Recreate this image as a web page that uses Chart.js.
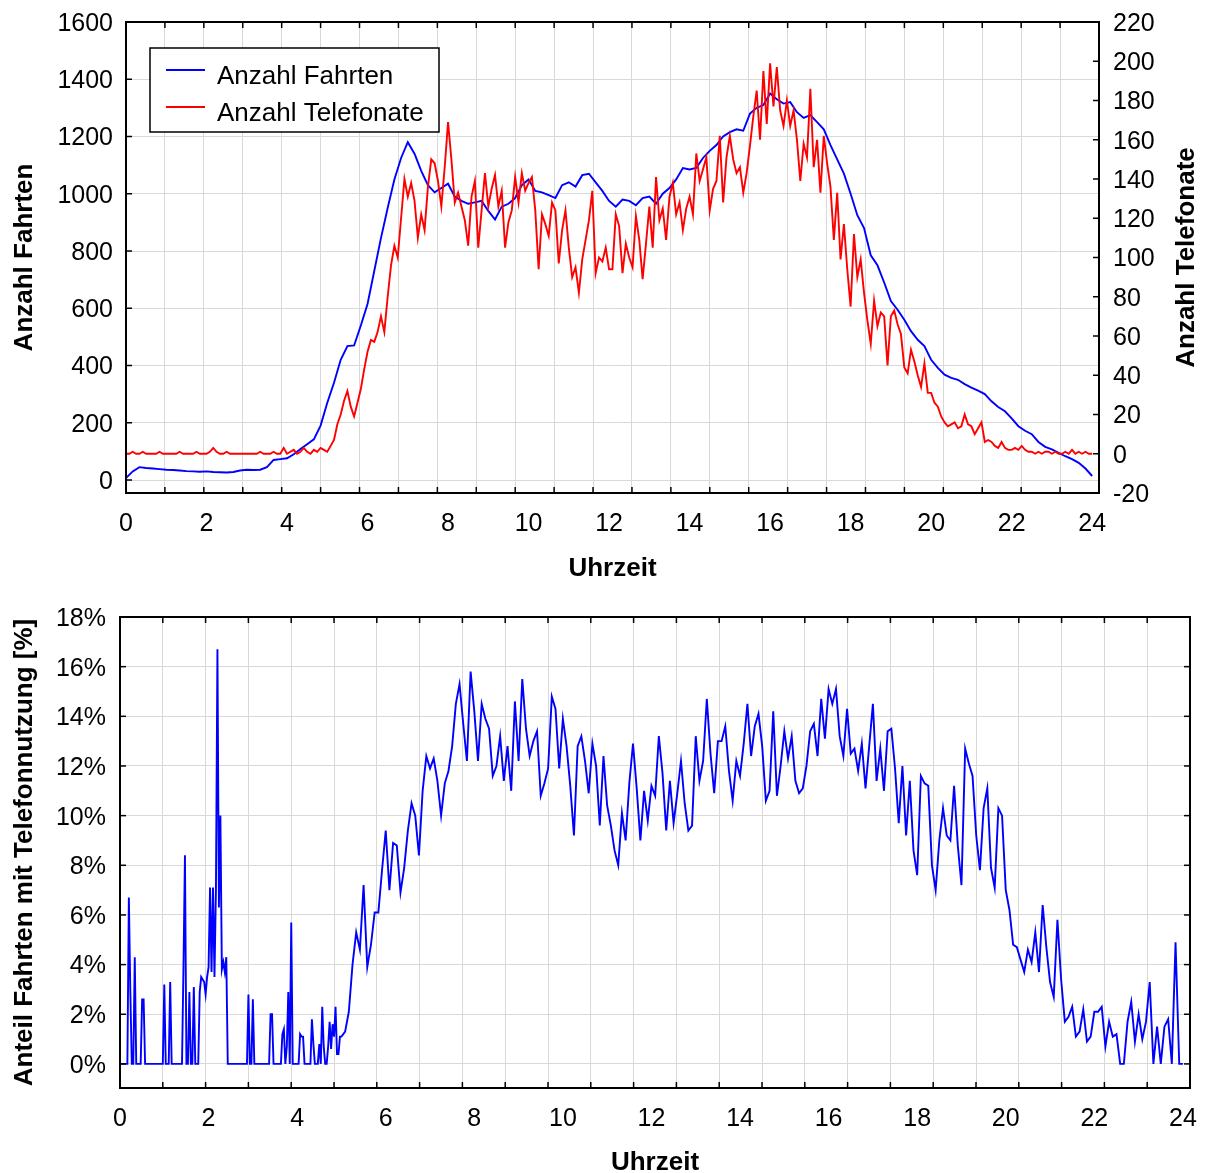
<!DOCTYPE html>
<html lang="de">
<head>
<meta charset="utf-8">
<title>Fahrten und Telefonate im Tagesverlauf</title>
<script src="https://cdn.jsdelivr.net/npm/chart.js@4.4.1/dist/chart.umd.min.js"></script>
<style>
  html, body { margin: 0; padding: 0; background: #fff; overflow: hidden; }
  #wrap { position: relative; width: 1207px; height: 1173px; }
  .panel { position: absolute; left: 0; width: 1207px; }
  #top { top: 0; height: 590px; }
  #bottom { top: 590px; height: 583px; }
  canvas { display: block; }
</style>
</head>
<body>
<div id="wrap">
  <div class="panel" id="top"><canvas id="c1" width="1207" height="590"></canvas></div>
  <div class="panel" id="bottom"><canvas id="c2" width="1207" height="583"></canvas></div>
</div>
<script>
// ---------- Daten ----------
// Anzahl Fahrten, alle 10 Minuten ab 0:00
const fahrtenSchrittMin = 10;
const anzahlFahrten = [
  7, 30, 45, 42, 40, 38,
  36, 35, 33, 31, 30, 29,
  30, 28, 27, 26, 28, 33,
  36, 35, 36, 45, 70, 73,
  76, 90, 108, 125, 142, 190,
  270, 340, 420, 468, 470, 540,
  615, 730, 845, 950, 1050, 1125,
  1180, 1140, 1080, 1030, 1005, 1020,
  1035, 990, 975, 965, 970, 975,
  940, 910, 955, 965, 985, 1030,
  1050, 1010, 1005, 995, 985, 1030,
  1040, 1025, 1065, 1070, 1040, 1010,
  975, 955, 980, 975, 960, 985,
  990, 965, 1000, 1020, 1050, 1090,
  1085, 1090, 1125, 1150, 1170, 1200,
  1215, 1225, 1220, 1280, 1300, 1310,
  1350, 1330, 1315, 1320, 1285, 1265,
  1275, 1250, 1225, 1170, 1120, 1070,
  1000, 925, 880, 785, 750, 690,
  625, 595, 560, 520, 490, 468,
  420, 392, 368, 357, 350, 335,
  323, 312, 300, 275, 255, 240,
  215, 188, 172, 160, 133, 116,
  107, 95, 83, 73, 60, 40,
  14
];

// Anzahl Telefonate, alle 5 Minuten ab 0:00
const telefonateSchrittMin = 5;
const anzahlTelefonate = [
  0, 0, 1, 0, 0, 1, 0, 0, 0, 0, 1, 0,
  0, 0, 0, 0, 1, 0, 0, 0, 0, 1, 0, 0,
  0, 1, 3, 1, 0, 0, 1, 0, 0, 0, 0, 0,
  0, 0, 0, 0, 1, 0, 0, 0, 1, 0, 0, 3,
  0, 1, 2, 0, 1, 3, 1, 0, 2, 1, 3, 2,
  1, 4, 7, 15, 20, 27, 32, 24, 19, 26, 33, 43,
  52, 58, 57, 62, 70, 62, 80, 96, 106, 100, 120, 140,
  131, 138, 129, 110, 122, 114, 136, 150, 148, 139, 126, 146,
  169, 150, 128, 133, 126, 119, 106, 131, 139, 105, 124, 143,
  126, 135, 142, 126, 134, 105, 118, 124, 141, 128, 143, 134,
  138, 141, 124, 94, 122, 117, 111, 128, 124, 97, 114, 124,
  105, 90, 95, 82, 99, 109, 119, 134, 92, 100, 98, 105,
  94, 94, 122, 116, 92, 107, 100, 95, 121, 109, 89, 107,
  126, 105, 141, 119, 125, 109, 131, 138, 122, 128, 114, 125,
  131, 122, 153, 139, 145, 151, 124, 135, 139, 162, 128, 151,
  162, 150, 143, 146, 133, 143, 157, 172, 185, 160, 195, 168,
  199, 177, 197, 175, 167, 180, 167, 175, 160, 139, 158, 151,
  186, 146, 160, 133, 162, 148, 136, 109, 133, 99, 117, 94,
  75, 112, 90, 99, 82, 68, 56, 78, 65, 72, 70, 45,
  70, 73, 66, 61, 44, 41, 53, 47, 40, 34, 46, 31,
  31, 26, 24, 19, 16, 14, 15, 16, 13, 14, 20, 15,
  14, 10, 13, 16, 6, 7, 6, 4, 3, 6, 3, 2,
  2, 3, 2, 4, 2, 1, 1, 0, 1, 0, 1, 1,
  0, 1, 0, 0, 1, 0, 2, 0, 1, 0, 1, 0,
  0
];

// Anteil Fahrten mit Telefonnutzung [%], nachts alle 2 Minuten (0:00 bis 4:58)
const anteilNachtSchrittMin = 2;
const anteilNacht = [
  0, 0, 0, 0, 0, 0, 6.7, 2.9, 0, 0,
  4.3, 0, 0, 0, 0, 2.6, 2.6, 0, 0, 0,
  0, 0, 0, 0, 0, 0, 0, 0, 0, 0,
  3.2, 0, 0, 0, 3.3, 0, 0, 0, 0, 0,
  0, 0, 0, 3.9, 8.4, 0, 0, 2.9, 0, 0,
  3.1, 0, 0, 0, 2.9, 3.5, 3.4, 3.3, 2.8, 3.5,
  3.9, 7.1, 3.7, 7.1, 3.5, 7.1, 16.7, 6.3, 10.0, 3.8,
  4.1, 3.7, 4.3, 0, 0, 0, 0, 0, 0, 0,
  0, 0, 0, 0, 0, 0, 0, 2.8, 0, 0,
  2.6, 0, 0, 0, 0, 0, 0, 0, 0, 0,
  0, 0, 2.0, 2.0, 0, 0, 0, 0, 0, 0,
  1.2, 1.4, 0, 0.7, 2.9, 0, 5.7, 0, 0, 0,
  0, 0, 1.2, 1.1, 1.1, 0, 0, 0, 0, 0,
  1.8, 0.8, 0, 0, 0, 0.8, 0, 2.3, 0.7, 0,
  0, 0.7, 1.7, 0.6, 1.6, 1.1, 2.3, 0.4, 0.4, 1.1
];
// tagsüber alle 5 Minuten (5:00 bis 24:00)
const anteilTagBeginnStd = 5;
const anteilTagSchrittMin = 5;
const anteilTag = [
  1.1, 1.3, 2.1, 4.0, 5.3, 4.6, 7.2, 3.9, 4.8, 6.1, 6.1, 7.8,
  9.4, 7.0, 8.9, 8.8, 6.9, 7.9, 9.4, 10.5, 10.0, 8.4, 11.0, 12.4,
  11.9, 12.3, 11.4, 10.0, 11.3, 11.8, 12.8, 14.5, 15.3, 13.7, 12.2, 15.8,
  14.2, 12.2, 14.5, 13.9, 13.5, 11.6, 12.0, 13.2, 11.4, 12.8, 11.0, 14.6,
  12.2, 15.5, 13.5, 12.4, 13.0, 13.4, 10.8, 11.3, 11.9, 14.8, 14.3, 11.9,
  13.9, 12.8, 11.2, 9.2, 12.8, 13.2, 12.2, 10.9, 12.9, 12.0, 9.6, 12.4,
  10.4, 9.6, 8.6, 8.0, 10.1, 9.0, 11.3, 12.9, 11.1, 9.0, 11.0, 9.8,
  11.2, 10.8, 13.2, 11.7, 9.4, 11.4, 9.7, 10.9, 12.2, 10.5, 9.4, 9.6,
  13.2, 11.4, 12.2, 14.7, 12.5, 10.9, 13.0, 13.0, 13.6, 11.8, 10.6, 12.2,
  11.6, 12.9, 14.5, 12.4, 13.6, 14.1, 12.8, 10.6, 11.0, 14.2, 10.8, 12.0,
  13.4, 12.3, 13.2, 11.4, 10.9, 11.1, 12.0, 13.4, 13.7, 12.4, 14.7, 13.1,
  15.1, 14.5, 15.1, 13.2, 12.4, 14.3, 12.5, 12.7, 11.8, 12.9, 11.1, 12.8,
  14.5, 11.4, 12.7, 11.0, 13.4, 13.5, 11.9, 9.7, 12.0, 9.2, 11.4, 8.6,
  7.6, 11.6, 11.3, 11.2, 8.0, 7.0, 9.0, 10.3, 9.2, 9.0, 11.2, 8.8,
  7.2, 12.7, 12.1, 11.6, 9.2, 7.8, 10.3, 11.1, 7.9, 7.1, 10.3, 10.0,
  7.0, 6.2, 4.8, 4.7, 4.2, 3.7, 4.6, 4.1, 5.3, 3.7, 6.4, 4.7,
  3.3, 2.7, 5.8, 3.4, 1.7, 1.9, 2.3, 1.1, 1.3, 2.2, 0.9, 1.1,
  2.1, 2.1, 2.3, 0.7, 1.7, 1.1, 1.2, 0, 0, 1.7, 2.5, 0.9,
  2.0, 1.0, 1.7, 3.3, 0, 1.5, 0, 1.5, 1.8, 0, 4.9, 0,
  0
];

// Achsenbeschriftungen
const stundenTicks = [0, 2, 4, 6, 8, 10, 12, 14, 16, 18, 20, 22, 24];
const fahrtenTicks = [0, 200, 400, 600, 800, 1000, 1200, 1400, 1600];
const telefonateTicks = [-20, 0, 20, 40, 60, 80, 100, 120, 140, 160, 180, 200, 220];
const anteilTicks = [0, 2, 4, 6, 8, 10, 12, 14, 16, 18];

// ---------- Darstellung ----------
const FONT = "'Liberation Sans', Arial, Helvetica, sans-serif";
Chart.defaults.font.family = FONT;
Chart.defaults.color = '#000';
const GRID = '#d9d9d9';
const TICK_FONT = { size: 25 };

const toPoints = (values, stepMin, startHour = 0) =>
  values.map((v, i) => ({ x: startHour + i * stepMin / 60, y: v }));

const fixedTicks = list => scale => { scale.ticks = list.map(v => ({ value: v })); };

// feste Achsenmaße, ohne zusätzlichen Randausgleich für überstehende Beschriftungen
const fixWidth = w => s => { s.width = w; s.paddingTop = 0; s.paddingBottom = 0; s.paddingLeft = 0; s.paddingRight = 0; };
const fixHeight = h => s => { s.height = h; s.paddingTop = 0; s.paddingBottom = 0; s.paddingLeft = 0; s.paddingRight = 0; };
const plainNumber = v => String(v);

// Rahmen um die Zeichenfläche und nach innen zeigende Teilstriche
const frameAndTicks = {
  id: 'frameAndTicks',
  afterDraw(chart, args, opts) {
    const { ctx, chartArea: a } = chart;
    const len = 6;
    ctx.save();
    ctx.strokeStyle = '#000';
    ctx.lineWidth = 1.5;
    opts.sides.forEach(({ scale, side }) => {
      const s = chart.scales[scale];
      s.ticks.forEach(t => {
        const p = s.getPixelForValue(t.value);
        ctx.beginPath();
        if (side === 'left') { ctx.moveTo(a.left, p); ctx.lineTo(a.left + len, p); }
        if (side === 'right') { ctx.moveTo(a.right, p); ctx.lineTo(a.right - len, p); }
        if (side === 'top') { ctx.moveTo(p, a.top); ctx.lineTo(p, a.top + len); }
        if (side === 'bottom') { ctx.moveTo(p, a.bottom); ctx.lineTo(p, a.bottom - len); }
        ctx.stroke();
      });
    });
    ctx.lineWidth = 2;
    ctx.strokeRect(a.left, a.top, a.right - a.left, a.bottom - a.top);
    ctx.restore();
  }
};

// Achsentitel (links und rechts von unten nach oben gelesen)
const axisTitles = {
  id: 'axisTitles',
  afterDraw(chart, args, opts) {
    const { ctx, chartArea: a } = chart;
    const midX = (a.left + a.right) / 2;
    const midY = (a.top + a.bottom) / 2;
    ctx.save();
    ctx.fillStyle = '#000';
    ctx.font = 'bold 26px ' + FONT;
    ctx.textAlign = 'center';
    ctx.textBaseline = 'middle';
    opts.items.forEach(it => {
      const x = it.side === 'bottom' ? midX : it.x;
      const y = it.side === 'bottom' ? a.bottom + it.offset : midY;
      ctx.save();
      ctx.translate(x, y);
      if (it.side !== 'bottom') ctx.rotate(-Math.PI / 2);
      ctx.fillText(it.text, 0, 0);
      ctx.restore();
    });
    ctx.restore();
  }
};

// Legende im Diagramm oben links
const legendBox = {
  id: 'legendBox',
  afterDatasetsDraw(chart, args, opts) {
    const { ctx, chartArea: a } = chart;
    const x = a.left + 24, y = a.top + 26, w = 289, h = 84;
    ctx.save();
    ctx.fillStyle = '#fff';
    ctx.fillRect(x, y, w, h);
    ctx.strokeStyle = '#000';
    ctx.lineWidth = 1.5;
    ctx.strokeRect(x, y, w, h);
    opts.order.forEach((di, k) => {
      const ds = chart.data.datasets[di];
      const ly = y + 22 + k * 37;
      ctx.strokeStyle = ds.borderColor;
      ctx.lineWidth = 1.8;
      ctx.beginPath();
      ctx.moveTo(x + 16, ly);
      ctx.lineTo(x + 55, ly);
      ctx.stroke();
      ctx.fillStyle = '#000';
      ctx.font = '26px ' + FONT;
      ctx.textAlign = 'left';
      ctx.textBaseline = 'alphabetic';
      ctx.fillText(ds.label, x + 67, ly + 14);
    });
    ctx.restore();
  }
};

const lineStyle = { borderWidth: 1.9, pointRadius: 0, tension: 0, fill: false };

// ---------- Oberes Diagramm: Fahrten und Telefonate ----------
new Chart(document.getElementById('c1'), {
  type: 'line',
  data: {
    datasets: [
      { label: 'Anzahl Fahrten', data: toPoints(anzahlFahrten, fahrtenSchrittMin),
        borderColor: '#0000ff', yAxisID: 'y', xAxisID: 'x', order: 1, ...lineStyle },
      { label: 'Anzahl Telefonate', data: toPoints(anzahlTelefonate, telefonateSchrittMin),
        borderColor: '#ff0000', yAxisID: 'y2', xAxisID: 'x', order: 0, ...lineStyle }
    ]
  },
  options: {
    responsive: false,
    animation: false,
    events: [],
    layout: { padding: { top: 22, left: 0, right: 0, bottom: 0 } },
    scales: {
      x: {
        type: 'linear', position: 'bottom', min: 0, max: 24.17,
        afterBuildTicks: fixedTicks(stundenTicks),
        afterFit: fixHeight(97),
        grid: { display: false, drawTicks: false },
        border: { display: false },
        ticks: { font: TICK_FONT, color: '#000', padding: 16, maxRotation: 0, autoSkip: false, callback: plainNumber }
      },
      xg: {
        type: 'linear', position: 'top', min: 0, max: 25,
        afterFit: fixHeight(0),
        grid: { color: GRID, lineWidth: 1, drawTicks: false },
        border: { display: false },
        ticks: { display: false, stepSize: 1 }
      },
      y: {
        type: 'linear', position: 'left', min: -45.4, max: 1600,
        afterBuildTicks: fixedTicks(fahrtenTicks),
        afterFit: fixWidth(126),
        grid: { color: GRID, lineWidth: 1, drawTicks: false },
        border: { display: false },
        ticks: { font: TICK_FONT, color: '#000', padding: 13, labelOffset: 2, callback: plainNumber }
      },
      y2: {
        type: 'linear', position: 'right', min: -20, max: 220,
        afterBuildTicks: fixedTicks(telefonateTicks),
        afterFit: fixWidth(108),
        grid: { display: false, drawTicks: false },
        border: { display: false },
        ticks: { font: TICK_FONT, color: '#000', padding: 14, labelOffset: 2, callback: plainNumber }
      }
    },
    plugins: {
      legend: { display: false },
      tooltip: { enabled: false },
      frameAndTicks: { sides: [
        { scale: 'y', side: 'left' }, { scale: 'y2', side: 'right' },
        { scale: 'xg', side: 'top' }, { scale: 'xg', side: 'bottom' }
      ] },
      axisTitles: { items: [
        { text: 'Uhrzeit', side: 'bottom', offset: 76 },
        { text: 'Anzahl Fahrten', side: 'left', x: 25 },
        { text: 'Anzahl Telefonate', side: 'right', x: 1187 }
      ] },
      legendBox: { order: [0, 1] }
    }
  },
  plugins: [frameAndTicks, axisTitles, legendBox]
});

// ---------- Unteres Diagramm: Anteil Fahrten mit Telefonnutzung ----------
const anteilPunkte = toPoints(anteilNacht, anteilNachtSchrittMin)
  .concat(toPoints(anteilTag, anteilTagSchrittMin, anteilTagBeginnStd));

new Chart(document.getElementById('c2'), {
  type: 'line',
  data: {
    datasets: [
      { label: 'Anteil Fahrten mit Telefonnutzung', data: anteilPunkte,
        borderColor: '#0000ff', yAxisID: 'y', xAxisID: 'x', ...lineStyle }
    ]
  },
  options: {
    responsive: false,
    animation: false,
    events: [],
    layout: { padding: { top: 27, left: 0, right: 17, bottom: 0 } },
    scales: {
      x: {
        type: 'linear', position: 'bottom', min: 0, max: 24.16,
        afterBuildTicks: fixedTicks(stundenTicks),
        afterFit: fixHeight(85),
        grid: { display: false, drawTicks: false },
        border: { display: false },
        ticks: { font: TICK_FONT, color: '#000', padding: 16, maxRotation: 0, autoSkip: false, callback: plainNumber }
      },
      xg: {
        type: 'linear', position: 'top', min: 0, max: 25,
        afterFit: fixHeight(0),
        grid: { color: GRID, lineWidth: 1, drawTicks: false },
        border: { display: false },
        ticks: { display: false, stepSize: 1 }
      },
      y: {
        type: 'linear', position: 'left', min: -0.97, max: 18,
        afterBuildTicks: fixedTicks(anteilTicks),
        afterFit: fixWidth(120),
        grid: { color: GRID, lineWidth: 1, drawTicks: false },
        border: { display: false },
        ticks: { font: TICK_FONT, color: '#000', padding: 14, labelOffset: 2, callback: v => v + '%' }
      }
    },
    plugins: {
      legend: { display: false },
      tooltip: { enabled: false },
      frameAndTicks: { sides: [
        { scale: 'y', side: 'left' }, { scale: 'y', side: 'right' },
        { scale: 'xg', side: 'top' }, { scale: 'xg', side: 'bottom' }
      ] },
      axisTitles: { items: [
        { text: 'Uhrzeit', side: 'bottom', offset: 75 },
        { text: 'Anteil Fahrten mit Telefonnutzung [%]', side: 'left', x: 25 }
      ] }
    }
  },
  plugins: [frameAndTicks, axisTitles]
});
</script>
</body>
</html>
